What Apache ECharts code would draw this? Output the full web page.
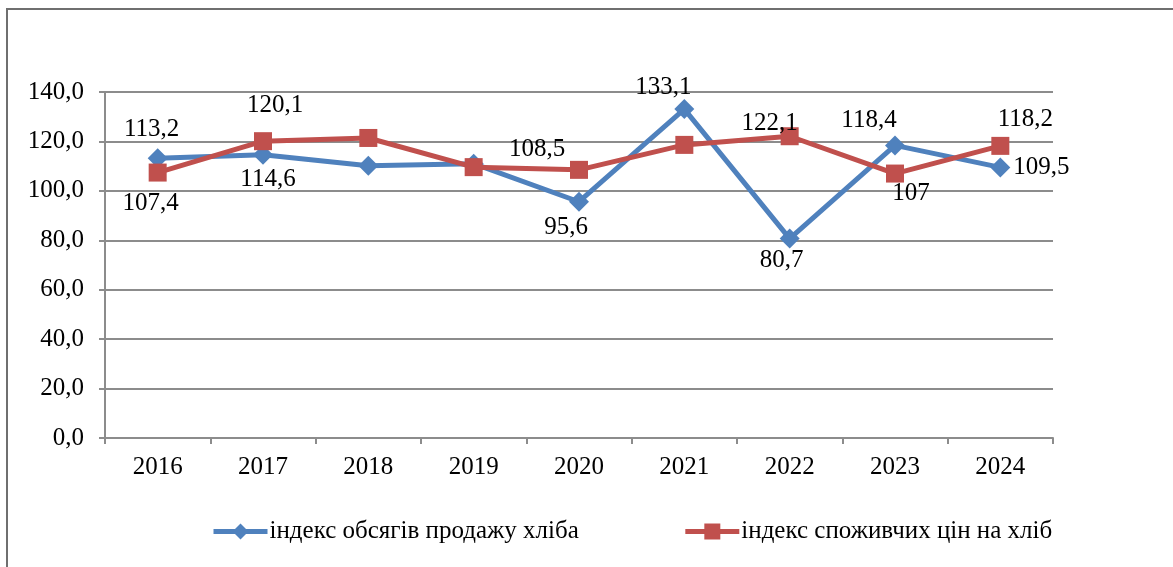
<!DOCTYPE html>
<html>
<head>
<meta charset="utf-8">
<script src="https://cdn.jsdelivr.net/npm/echarts@6/dist/echarts.min.js"></script>
<style>
  html, body { margin: 0; padding: 0; background: #fff; }
  #chart { width: 1173px; height: 567px; }
</style>
</head>
<body>
<div id="chart"></div>
<script>
const years = ['2016', '2017', '2018', '2019', '2020', '2021', '2022', '2023', '2024']
const salesIndex = [113.2, 114.6, 110.2, 111.0, 95.6, 133.1, 80.7, 118.4, 109.5]
const priceIndex = [107.4, 120.1, 121.4, 109.6, 108.5, 118.6, 122.1, 107, 118.2]
const salesNames = 'індекс обсягів продажу хліба'
const priceNames = 'індекс споживчих цін на хліб'

// label offsets from the point centre, null = no label
const salesLabelOffset = [[-6, -29], [5, 25], null, null, [-13, 26], [-21, -22], [-8, 22], [-26, -25], [41, 0]]
const priceLabelOffset = [[-7, 31], [12, -36], null, null, [-42, -20], null, [-20, -13], [16, 20], [25, -26]]

const fontFamily = '"Liberation Serif", "Times New Roman", serif'
const fmt = v => String(v).replace('.', ',')

function buildData(values, offsets) {
  return values.map((v, i) => {
    const off = offsets[i]
    if (!off) return { value: v, label: { show: false } }
    return { value: v, label: { show: true, position: 'inside', offset: off } }
  })
}

const chart = echarts.init(document.getElementById('chart'), null, { renderer: 'canvas' })

const labelStyle = {
  color: '#000',
  fontFamily,
  fontSize: 25,
  formatter: p => fmt(p.value)
}

const option = {
  animation: false,
  graphic: [{
    type: 'rect',
    shape: { x: 7, y: 9, width: 1300, height: 700 },
    style: { fill: 'none', stroke: '#6f6f6f', lineWidth: 2 },
    silent: true
  }],
  grid: { left: 105, right: 120, top: 92, bottom: 129 },
  legend: {
    bottom: 18,
    left: 206,
    itemWidth: 54,
    itemHeight: 20,
    itemGap: 104,
    lineStyle: { width: 5 },
    textStyle: { color: '#000', fontFamily, fontSize: 25, padding: [0, 0, 0, -3] },
    data: [salesNames, priceNames]
  },
  xAxis: {
    type: 'category',
    data: years,
    boundaryGap: true,
    axisLine: { lineStyle: { color: '#8c8c8c', width: 2 } },
    axisTick: { show: true, length: 6, lineStyle: { color: '#8c8c8c', width: 2 } },
    axisLabel: { color: '#000', fontFamily, fontSize: 25, margin: 17 }
  },
  yAxis: {
    type: 'value',
    min: 0,
    max: 140,
    interval: 20,
    axisLine: { show: true, lineStyle: { color: '#8c8c8c', width: 2 } },
    axisTick: { show: true, length: 6, lineStyle: { color: '#8c8c8c', width: 2 } },
    axisLabel: { color: '#000', fontFamily, fontSize: 25, margin: 21, formatter: v => v.toFixed(1).replace('.', ',') },
    splitLine: { lineStyle: { color: '#8c8c8c', width: 2 } }
  },
  series: [
    {
      name: salesNames,
      type: 'line',
      data: buildData(salesIndex, salesLabelOffset),
      symbol: 'diamond',
      symbolSize: 20,
      lineStyle: { color: '#4F81BD', width: 5 },
      itemStyle: { color: '#4F81BD' },
      label: labelStyle,
      z: 3
    },
    {
      name: priceNames,
      type: 'line',
      data: buildData(priceIndex, priceLabelOffset),
      symbol: 'rect',
      symbolSize: 18,
      lineStyle: { color: '#C0504D', width: 5 },
      itemStyle: { color: '#C0504D' },
      label: labelStyle,
      z: 4
    }
  ]
}

chart.setOption(option)
window.addEventListener('resize', () => chart.resize())
</script>
</body>
</html>
